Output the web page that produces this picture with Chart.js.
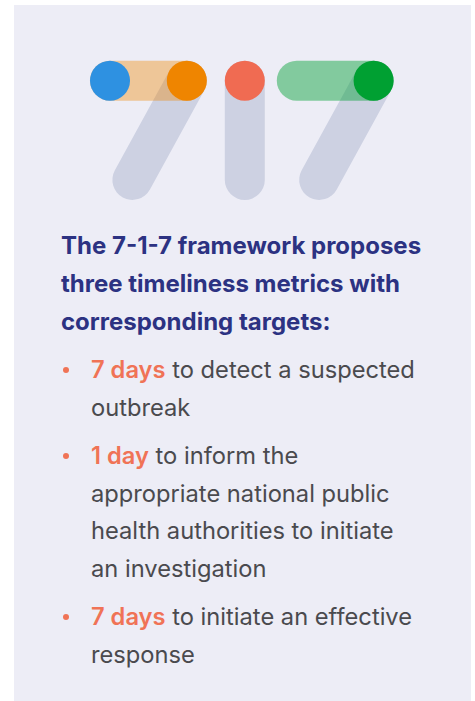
<!DOCTYPE html>
<html>
<head>
<meta charset="utf-8">
<script src="https://cdn.jsdelivr.net/npm/chart.js@4"></script>
<style>
  html, body { margin: 0; padding: 0; background: #ffffff; width: 475px; height: 701px; overflow: hidden; }
  #card { position: absolute; left: 14px; top: 5px; width: 457px; height: 696px; background: #EDEDF6; }
  #logo { position: absolute; left: 0; top: 0; }
  #heading { position: absolute; left: 47px; top: 222px; margin: 0; font-family: Inter, sans-serif; font-weight: 700; font-size: 24px; line-height: 38px; color: #2C3282; white-space: nowrap; }
  #list { position: absolute; left: 47px; top: 346px; margin: 0; padding: 0; list-style: none; font-family: Inter, sans-serif; font-size: 23.7px; line-height: 37.7px; color: #4A4A4E; white-space: nowrap; }
  #list li { position: relative; padding-left: 30px; margin-bottom: 10.5px; }
  #list li::before { content: ""; position: absolute; left: 2px; top: 16px; width: 6px; height: 6px; border-radius: 50%; background: #F07356; }
  #list .hl { color: #F07356; font-weight: 600; }
</style>
</head>
<body>
<div id="card">
  <canvas id="logo" width="457" height="210"></canvas>
  <p id="heading"></p>
  <ul id="list"></ul>
</div>
<script>
// ---- data ----
const metrics = ['Detect', 'Notify', 'Respond'];
const targets = [7, 1, 7];
const units = ['days', 'day', 'days'];
const descriptions = [
  ['to detect a suspected', 'outbreak'],
  ['to inform the', 'appropriate national public', 'health authorities to initiate', 'an investigation'],
  ['to initiate an effective', 'response']
];
const headingLines = ['The 7-1-7 framework proposes', 'three timeliness metrics with', 'corresponding targets:'];

// ---- layout / style constants (stroke units) ----
const DIGIT_X = [0, 3.37, 4.67];
const GLYPH = { barLen: 1.92, slant: 1.36, height: 2.48 };
const STROKE_PX = 40;
const ORIGIN_PX = { x: 96, y: 75.7 };
const CANVAS = { w: 457, h: 210 };
const GRAY = 'rgb(205,209,226)';
const STYLE = {
  7: [{ start: '#2E91E1', end: '#EF8500', bar: 'rgba(239,133,0,0.38)' },
      { start: null, end: '#00A032', bar: 'rgba(0,160,50,0.45)' }],
  1: [{ dot: '#F06B52' }]
};

// ---- build datasets from the digits ----
const datasets = [];
const dots = [], dotColors = [];
const used = { 7: 0, 1: 0 };
targets.forEach((d, i) => {
  const x0 = DIGIT_X[i];
  const st = STYLE[d][used[d]++];
  if (d === 7) {
    const x1 = x0 + GLYPH.barLen;
    datasets.push({ type: 'line', label: metrics[i] + ' stem', data: [{ x: x1, y: 0 }, { x: x1 - GLYPH.slant, y: GLYPH.height }],
      borderColor: GRAY, borderWidth: STROKE_PX, borderCapStyle: 'round', pointRadius: 0, order: 3 });
    datasets.push({ type: 'line', label: metrics[i] + ' bar', data: [{ x: x0, y: 0 }, { x: x1, y: 0 }],
      borderColor: st.bar, borderWidth: STROKE_PX, borderCapStyle: 'round', pointRadius: 0, order: 2 });
    if (st.start) { dots.push({ x: x0, y: 0 }); dotColors.push(st.start); }
    dots.push({ x: x1, y: 0 }); dotColors.push(st.end);
  } else {
    datasets.push({ type: 'line', label: metrics[i] + ' stem', data: [{ x: x0, y: 0 }, { x: x0, y: GLYPH.height }],
      borderColor: GRAY, borderWidth: STROKE_PX, borderCapStyle: 'round', pointRadius: 0, order: 3 });
    dots.push({ x: x0, y: 0 }); dotColors.push(st.dot);
  }
});
datasets.push({ type: 'scatter', label: 'dots', data: dots, backgroundColor: dotColors, borderWidth: 0,
  pointRadius: STROKE_PX / 2, pointHoverRadius: STROKE_PX / 2, order: 0 });

new Chart(document.getElementById('logo'), {
  type: 'scatter',
  data: { datasets },
  options: {
    responsive: false, animation: false, events: [],
    layout: { padding: 0, autoPadding: false },
    plugins: { legend: { display: false }, tooltip: { enabled: false } },
    elements: { line: { tension: 0 } },
    scales: {
      x: { type: 'linear', display: false, min: -ORIGIN_PX.x / STROKE_PX, max: (CANVAS.w - ORIGIN_PX.x) / STROKE_PX },
      y: { type: 'linear', display: false, reverse: true, min: -ORIGIN_PX.y / STROKE_PX, max: (CANVAS.h - ORIGIN_PX.y) / STROKE_PX }
    }
  }
});

// ---- text ----
document.getElementById('heading').innerHTML = headingLines.join('<br>');
const list = document.getElementById('list');
targets.forEach((t, i) => {
  const li = document.createElement('li');
  li.innerHTML = '<span class="hl">' + t + ' ' + units[i] + '</span> ' + descriptions[i].join('<br>');
  list.appendChild(li);
});
</script>
</body>
</html>
